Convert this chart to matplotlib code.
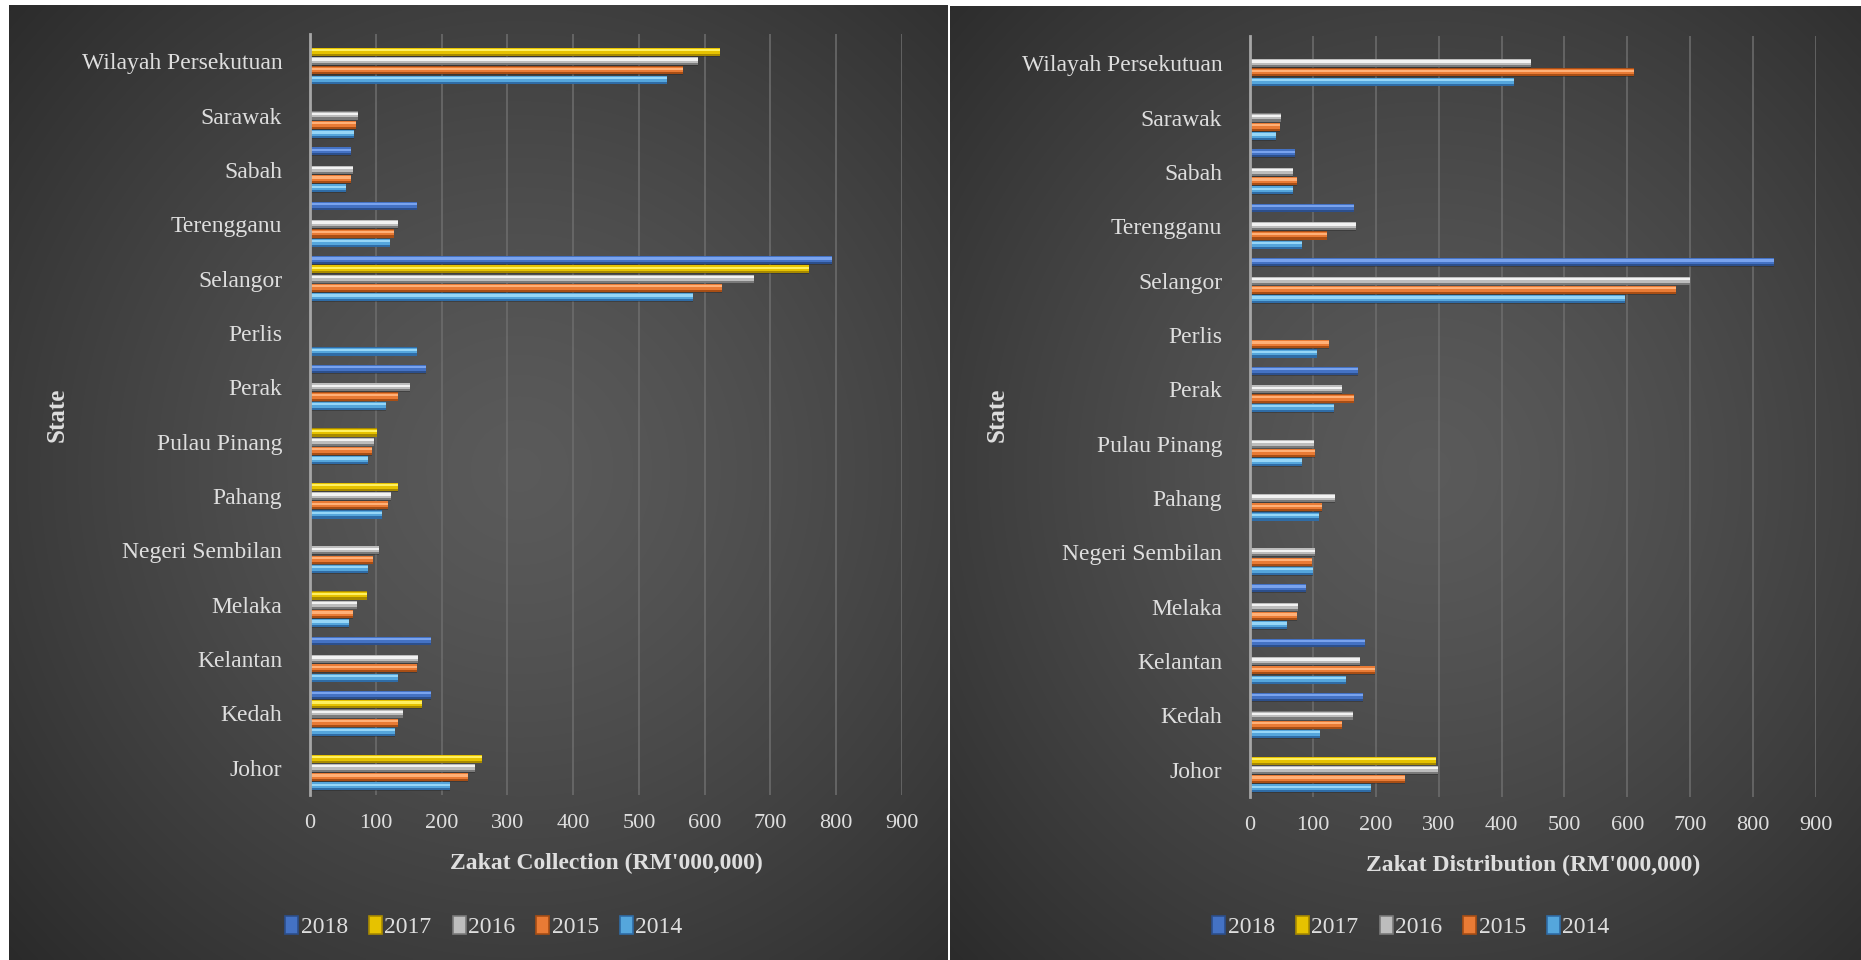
import numpy as np
import matplotlib
matplotlib.use("Agg")
import matplotlib.pyplot as plt
from matplotlib.patches import Patch

plt.rcParams['font.family'] = ['Liberation Serif', 'DejaVu Serif']

states = ["Johor", "Kedah", "Kelantan", "Melaka", "Negeri Sembilan", "Pahang",
          "Pulau Pinang", "Perak", "Perlis", "Selangor", "Terengganu", "Sabah",
          "Sarawak", "Wilayah Persekutuan"]
years = ["2018", "2017", "2016", "2015", "2014"]
nan = np.nan

# Zakat collection (RM'000,000)
coll_2018 = [nan, 184, 184, nan, nan, nan, nan, 176, nan, 794, 162, 63, nan, nan]
coll_2017 = [262, 171, nan, 86, nan, 134, 102, nan, nan, 758, nan, nan, nan, 624]
coll_2016 = [251, 141, 164, 71, 105, 123, 97, 152, nan, 675, 134, 65, 73, 590]
coll_2015 = [240, 134, 162, 66, 96, 119, 95, 134, nan, 627, 128, 63, 70, 567]
coll_2014 = [213, 129, 134, 60, 88, 110, 88, 116, 163, 583, 122, 54, 67, 542]

# Zakat distribution (RM'000,000)
dist_2018 = [nan, 180, 183, 89, nan, nan, nan, 172, nan, 833, 165, 71, nan, nan]
dist_2017 = [295, nan, nan, nan, nan, nan, nan, nan, nan, nan, nan, nan, nan, nan]
dist_2016 = [299, 164, 175, 77, 103, 135, 102, 146, nan, 699, 168, 68, 50, 447]
dist_2015 = [246, 147, 199, 74, 98, 115, 103, 166, 126, 678, 123, 75, 47, 611]
dist_2014 = [193, 112, 152, 59, 100, 110, 82, 133, 106, 597, 82, 68, 42, 420]

xticks = [0, 100, 200, 300, 400, 500, 600, 700, 800, 900]

# dark / mid / light shades per year
shades = {
    "2018": ("#2c4f8c", "#4472c4", "#79a3ee"),
    "2017": ("#a88a00", "#e6c200", "#fff060"),
    "2016": ("#7a7a7a", "#bdbdbd", "#f2f2f2"),
    "2015": ("#a84e15", "#e97b35", "#ffb077"),
    "2014": ("#2f6ca6", "#55a6dc", "#96d6f7"),
}

W, H = 1861, 960
fig = plt.figure(figsize=(W / 100, H / 100), dpi=100)
fig.patch.set_facecolor("white")

txt = "#dedede"


def background(x0, x1, y0, y1, cx, cy):
    bg = fig.add_axes([x0 / W, 1 - y1 / H, (x1 - x0) / W, (y1 - y0) / H], zorder=-10)
    xs = np.linspace(x0, x1, 300)
    ys = np.linspace(y0, y1, 300)
    X, Y = np.meshgrid(xs, ys)
    r = np.sqrt(((X - cx) / ((x1 - x0) * 0.75)) ** 2 + ((Y - cy) / ((y1 - y0) * 0.75)) ** 2)
    r = np.clip(r, 0, 1)
    val = 0.355 - 0.19 * r ** 1.3
    img = np.dstack([val, val, val])
    bg.imshow(img, extent=[0, 1, 0, 1], aspect="auto", interpolation="bilinear")
    bg.set_axis_off()


def panel(rect, series, xlabel):
    left, top, right, bottom = rect
    ax = fig.add_axes([left / W, 1 - bottom / H, (right - left) / W, (bottom - top) / H])
    ax.set_facecolor("none")
    y = np.arange(len(states))
    slot = 0.17
    h = 0.15
    for i, (yr, vals) in enumerate(zip(years, series)):
        dark, mid, light = shades[yr]
        yy = y + (2 - i) * slot
        v = np.array(vals, dtype=float)
        ax.barh(yy - 0.012, v, height=h, color="#1e1e1e", alpha=0.35, zorder=2)
        ax.barh(yy, v, height=h, color=dark, zorder=3)
        ax.barh(yy + h * 0.12, v, height=h * 0.72, color=mid, zorder=4)
        ax.barh(yy + h * 0.2, v, height=h * 0.28, color=light, zorder=5)
    ax.set_xlim(0, 900)
    ax.set_ylim(-0.5, len(states) - 0.5)
    ax.set_xticks(xticks)
    ax.set_yticks(y)
    ax.set_yticklabels(states)
    ax.tick_params(axis="both", length=0, colors=txt)
    ax.tick_params(axis="y", labelsize=17, pad=20)
    ax.tick_params(axis="x", labelsize=16, pad=14)
    ax.grid(axis="x", color="#6e6e6e", linewidth=1.1, zorder=0)
    ax.set_axisbelow(True)
    for s in ["top", "right", "bottom"]:
        ax.spines[s].set_visible(False)
    ax.spines["left"].set_color("#a6a6a6")
    ax.spines["left"].set_linewidth(2)
    ax.spines["left"].set_zorder(6)
    ax.set_xlabel(xlabel, fontsize=17, fontweight="bold", color=txt, labelpad=14)
    return ax


background(9, 948, 5, 960, 520, 470)
background(950, 1861, 6, 960, 1430, 470)
div = fig.add_axes([948 / W, 0, 2 / W, 955 / H], zorder=-5)
div.set_facecolor("#7a7a7a")
div.set_axis_off()
div.patch.set_visible(True)

ax1 = panel((310, 34, 902, 795),
            [coll_2018, coll_2017, coll_2016, coll_2015, coll_2014],
            "Zakat Collection (RM'000,000)")
ax2 = panel((1250, 36, 1816, 797),
            [dist_2018, dist_2017, dist_2016, dist_2015, dist_2014],
            "Zakat Distribution (RM'000,000)")

fig.text(57 / W, 1 - 415 / H, "State", rotation=90, ha="center", va="center",
         fontsize=18, fontweight="bold", color=txt)
fig.text(997 / W, 1 - 415 / H, "State", rotation=90, ha="center", va="center",
         fontsize=18, fontweight="bold", color=txt)

handles = [Patch(facecolor=shades[yr][1], edgecolor=shades[yr][0], linewidth=1.2, label=yr)
           for yr in years]
for cx in (484, 1411):
    fig.legend(handles=handles, loc="center", bbox_to_anchor=(cx / W, 1 - 927 / H),
               ncol=5, frameon=False, fontsize=17, labelcolor=txt,
               handlelength=0.55, handleheight=0.8, handletextpad=0.1,
               columnspacing=0.9)

fig.savefig("out.png", dpi=100, facecolor=fig.get_facecolor())
